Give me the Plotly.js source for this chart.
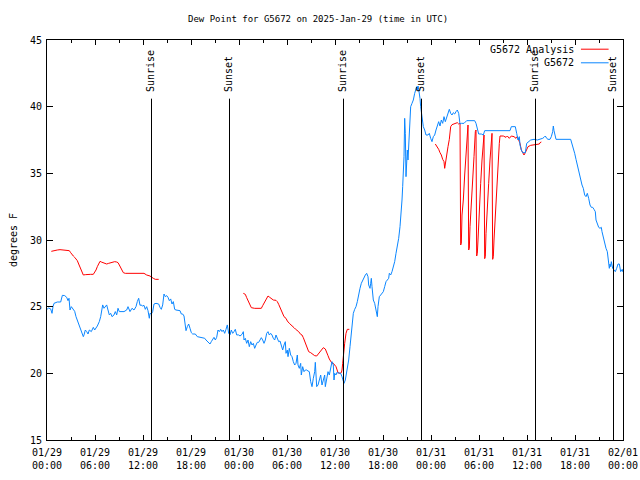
<!DOCTYPE html>
<html>
<head>
<meta charset="utf-8">
<script src="https://cdn.plot.ly/plotly-3.0.1.min.js"></script>
<style>html,body{margin:0;padding:0;background:#fff;}#chart{width:640px;height:480px;}</style>
</head>
<body>
<div id="chart"></div>
<script>
// Hours since 2025-01-29 00:00 UTC
const blueHours = [0,0.2,0.46,0.625,0.75,0.875,1.29,1.71,1.92,2.21,2.46,2.625,2.75,2.875,3.04,3.29,3.46,3.625,3.79,3.96,4.125,4.29,4.46,4.54,4.625,4.79,4.96,5.125,5.29,5.54,5.79,5.96,6.29,6.54,6.71,6.875,6.96,7.125,7.29,7.46,7.625,7.79,7.96,8.125,8.375,8.54,8.71,8.875,9.04,9.29,9.625,9.96,10.125,10.375,10.625,10.875,11.125,11.29,11.46,11.625,
11.75,11.96,12.125,12.29,12.46,12.625,12.79,12.875,13.04,13.21,13.375,13.625,13.96,14.125,14.29,14.46,14.625,14.79,14.96,15.125,15.29,15.46,15.625,15.79,15.96,16.125,16.46,16.625,16.79,16.96,17.125,17.21,17.375,17.54,17.71,17.875,18.04,18.21,18.54,18.79,19.125,19.46,19.71,19.875,20.125,20.375,20.54,20.71,20.875,21.04,21.21,21.375,21.54,21.71,21.875,22.04,22.21,22.375,22.54,22.71,22.875,23.04,23.21,23.375,23.54,23.71,23.96,24.125,
24.375,24.54,24.625,24.79,24.96,25.125,25.29,25.46,25.625,25.79,25.96,26.125,26.29,26.46,26.625,26.79,26.96,27.125,27.29,27.46,27.625,27.79,27.96,28.125,28.29,28.46,28.625,28.79,28.96,29.125,29.29,29.46,29.625,29.79,29.875,30.04,30.125,30.29,30.46,30.625,30.79,30.96,31.125,31.29,31.375,31.54,31.71,31.79,31.96,32.125,32.29,32.46,32.625,32.79,32.96,33.125,33.29,33.46,33.54,33.625,33.71,33.875,34.04,34.21,34.375,34.54,34.71,34.79,34.96,35.125,35.29,35.46,35.625,35.79,35.875,35.96,36.125,
36.21,36.46,36.71,36.875,37.04,37.125,37.29,37.46,37.625,37.71,37.875,38.04,38.21,38.29,38.46,38.625,38.79,38.96,39.125,39.29,39.46,39.625,39.79,39.96,40.125,40.21,40.375,40.46,40.54,40.625,40.79,40.96,41.04,41.21,41.29,41.375,41.54,41.71,41.875,42.04,42.21,42.375,42.54,42.71,42.79,42.96,43.125,43.29,43.46,43.625,43.79,43.96,44.125,44.29,44.375,44.46,44.54,44.625,44.71,44.79,44.875,44.96,45.04,45.125,45.21,45.29,45.375,45.46,45.625,45.79,45.96,46.125,46.21,46.29,46.375,46.46,46.54,46.625,46.71,46.79,46.875,47.04,47.21,47.375,
47.625,47.79,47.96,48.125,48.29,48.46,48.625,48.79,48.96,49.125,49.29,49.46,49.625,49.79,49.96,50.125,50.29,50.46,50.625,50.79,50.96,51.125,51.29,51.46,51.625,51.79,52.125,52.46,53.46,53.625,53.79,53.96,54.29,54.54,54.71,55.125,57.875,58.04,58.54,58.71,58.875,59.04,59.125,59.29,59.46,59.79,59.96,
60.46,60.875,61.29,61.71,61.96,62.125,62.29,62.46,62.625,62.875,63.04,63.21,63.29,63.375,63.54,63.625,65.46,65.625,65.79,65.96,66.125,66.29,66.375,66.54,66.71,66.875,67.04,67.21,67.375,67.54,67.71,67.875,68.04,68.21,68.375,68.54,68.625,68.79,68.96,69.125,69.29,69.375,69.54,69.71,69.875,70.04,70.21,70.29,70.375,70.46,70.54,70.625,70.71,70.875,71.04,71.21,71.375,71.54,71.71,71.9,72];
const blueDewPoint = [24.8,24.9,24.83,24.5,25.0,25.25,25.35,25.35,25.85,25.83,25.7,25.45,25.63,24.75,25.0,24.8,24.65,24.25,24.0,23.75,23.5,23.25,23.0,22.75,22.88,23.25,23.13,22.95,23.25,23.13,23.45,23.25,23.55,23.88,24.25,24.88,25.13,24.88,25.0,25.13,24.75,24.38,24.5,24.25,24.38,24.63,24.38,24.88,24.63,24.63,24.63,24.75,25.0,24.63,24.88,24.75,25.0,25.38,25.63,25.1,
25.13,25.05,25.1,24.8,25.0,24.7,24.13,24.5,24.45,24.63,25.2,25.25,25.2,24.95,24.8,25.13,25.95,25.75,25.83,25.7,25.45,25.58,25.2,25.38,24.8,24.75,24.75,24.7,24.45,24.45,24.3,23.75,23.2,23.5,23.7,23.38,23.05,22.95,22.95,22.75,22.7,22.7,22.63,22.5,22.38,22.2,22.38,22.55,22.7,22.5,22.7,23.25,23.13,23.3,23.13,23.25,23.0,23.3,23.63,23.0,22.88,23.25,23.0,23.13,23.3,22.88,22.88,22.8,
22.925,23.125,22.5,22.625,22.25,22.5,22.0,22.375,22.125,22.25,21.875,22.125,22.325,22.325,22.5,22.675,22.5,22.25,22.5,23.0,23.125,22.875,23.0,22.875,22.625,22.5,22.875,22.625,22.375,22.425,22.0,21.75,22.125,22.375,21.5,21.75,21.25,21.875,21.375,21.25,20.875,20.625,20.75,21.375,20.625,20.375,20.75,19.875,20.5,20.125,20.25,20.25,20.175,20.125,19.375,19.0,19.625,20.125,20.825,19.875,19.0,19.125,19.5,19.875,19.125,19.625,19.875,19.0,19.5,20.125,19.875,20.5,20.875,20.625,19.5,20.0,19.875,
20.05,20.0,20.0,19.75,19.5,19.25,19.5,20.0,20.5,21.0,22.0,23.0,23.75,24.5,24.8,25.0,25.375,26.0,26.375,26.75,27.0,27.25,27.375,27.5,27.25,26.625,26.375,26.75,27.125,26.5,25.5,25.25,25.0,24.75,24.25,25.0,25.75,25.875,26.0,26.125,26.5,26.875,27.0,27.125,27.5,27.375,27.625,28.0,28.375,29.0,29.5,30.125,31.0,32.0,33.0,34.0,35.25,36.25,39.125,38.0,34.75,35.875,36.75,36.0,37.0,38.75,39.25,40.0,40.25,40.5,41.0,41.375,41.5,41.25,41.55,41.3,41.0,40.625,40.0,39.5,39.0,38.5,38.25,37.875,
37.875,38.0,37.625,37.375,37.75,37.875,38.25,38.625,38.875,38.55,39.0,38.75,39.25,38.875,39.25,39.5,39.8,39.5,39.375,39.55,39.45,39.625,39.75,39.5,38.7,38.75,38.75,38.95,38.95,38.75,38.25,37.95,37.95,37.875,38.2,38.2,38.2,38.5,38.5,38.0,37.5,37.75,37.125,36.75,36.55,36.55,37.25,
37.5,37.55,37.5,37.55,37.625,37.7,37.8,37.625,37.55,37.55,37.75,38.125,38.55,38.2,37.75,37.55,37.55,37.25,36.875,36.5,36.05,35.625,35.25,34.875,34.5,34.125,33.875,33.375,33.25,33.5,33.125,32.625,32.45,32.45,32.3,32.125,31.5,31.25,30.95,30.875,30.95,30.625,30.125,29.75,29.375,29.125,28.5,27.875,28.2,28.0,28.375,28.125,27.875,27.75,27.625,27.875,28.2,28.2,27.625,27.8,27.6];

const analysisHours = [0.54,0.96,1.29,1.625,1.96,2.29,2.79,2.96,3.125,3.29,3.46,3.625,3.79,3.96,4.125,4.29,4.46,4.54,4.79,5.04,5.46,5.79,5.96,6.125,6.29,6.46,6.625,6.79,6.96,7.21,7.46,7.71,7.96,8.21,8.46,8.71,8.875,9.04,9.21,9.375,9.54,9.79,10.46,11.125,11.46,11.875,12.125,12.46,12.875,13.29,13.54,13.96,
14.2,
24.54,24.79,24.96,25.125,25.29,25.54,25.96,26.375,26.79,26.96,27.21,27.46,27.625,27.79,28.04,28.29,28.625,28.79,28.96,29.125,29.29,29.46,29.625,29.875,30.04,30.29,30.54,30.71,30.875,31.04,31.21,31.46,31.71,31.875,32.04,32.21,32.375,32.54,32.71,32.96,33.21,33.46,33.71,33.875,34.125,34.375,34.54,34.79,34.96,35.125,35.29,35.46,35.625,35.79,35.96,36.125,36.375,36.625,36.79,36.875,36.96,37.04,37.21,37.375,37.54,37.79,
38.0,
48.54,48.79,48.96,49.125,49.29,49.46,49.625,49.71,49.79,49.96,50.125,50.29,50.375,50.46,50.625,50.96,51.29,51.46,51.625,51.71,51.79,51.875,52.04,52.21,52.375,52.54,52.625,52.71,52.79,52.875,53.04,53.21,53.375,53.54,53.625,53.71,53.79,53.875,54.04,54.21,54.375,54.54,54.625,54.71,54.79,54.875,55.04,55.21,55.375,55.54,55.625,55.71,55.79,55.875,56.04,56.21,56.375,56.54,56.625,57.04,57.375,57.54,57.79,58.04,58.375,58.625,58.79,58.96,59.125,59.29,59.46,59.625,59.79,59.96,60.125,60.46,60.875,61.29,61.54,61.625,61.79];
const analysisDewPoint = [29.15,29.175,29.25,29.275,29.25,29.225,29.2,29.05,28.9,28.8,28.7,28.575,28.45,28.2,27.95,27.75,27.5,27.375,27.4,27.425,27.425,27.425,27.55,27.75,28.0,28.25,28.4,28.35,28.3,28.25,28.2,28.25,28.3,28.35,28.375,28.35,28.3,28.125,27.95,27.75,27.55,27.5,27.5,27.5,27.55,27.55,27.5,27.375,27.3,27.125,27.05,27.05,
null,
26.0,25.925,25.675,25.425,25.175,24.925,24.875,24.875,24.875,25.075,25.375,25.675,25.8,25.725,25.575,25.5,25.475,25.375,25.175,24.925,24.675,24.425,24.25,24.125,23.925,23.75,23.575,23.5,23.425,23.325,23.25,23.125,22.925,22.875,22.675,22.425,22.175,21.825,21.625,21.55,21.425,21.325,21.3,21.425,21.625,21.8,21.925,21.825,21.625,21.325,21.075,20.925,20.75,20.75,20.625,20.5,20.05,20.0,20.05,20.25,20.75,21.5,22.25,23.0,23.3,23.3,
null,
37.2,37.0,36.8,36.55,36.375,36.05,35.875,35.375,35.75,36.375,37.0,37.55,38.0,38.5,38.65,38.7,38.8,38.7,38.75,29.625,29.75,31.875,33.0,34.875,36.75,38.25,38.625,29.25,29.375,31.0,32.5,34.5,36.25,38.125,38.25,28.8,29.0,30.0,32.5,34.25,36.0,37.875,37.875,28.6,28.75,30.5,32.0,34.25,36.0,37.95,38.0,28.55,28.75,30.0,32.0,33.5,35.5,37.25,37.8,37.8,37.7,37.8,37.625,37.8,37.75,37.625,37.75,37.5,37.25,36.75,36.5,36.375,36.55,36.8,37.0,37.1,37.15,37.2,37.2,37.3,37.35];

const sunriseHours = [13, 37, 61];
const sunsetHours = [22.75, 46.75, 70.75];
const tickHours = [0,6,12,18,24,30,36,42,48,54,60,66,72];
const tickLabels = ["01/29<br>00:00","01/29<br>06:00","01/29<br>12:00","01/29<br>18:00","01/30<br>00:00","01/30<br>06:00","01/30<br>12:00","01/30<br>18:00","01/31<br>00:00","01/31<br>06:00","01/31<br>12:00","01/31<br>18:00","02/01<br>00:00"];
const seriesNames = ["G5672 Analysis", "G5672"];
const seriesColors = ["#ff0000", "#0a86ff"];

const FONT = "DejaVu Sans Mono";
const fnt = {family: FONT, size: 10, color: "#000"};
const pxHalf = 0.0625; // half a pixel in hours, keeps 1px rules crisp

const traces = [
  {x: analysisHours, y: analysisDewPoint, type: "scatter", mode: "lines", name: seriesNames[0],
   line: {color: seriesColors[0], width: 1}, connectgaps: false, hoverinfo: "skip"},
  {x: blueHours, y: blueDewPoint, type: "scatter", mode: "lines", name: seriesNames[1],
   line: {color: seriesColors[1], width: 1}, hoverinfo: "skip"}
];

const shapes = [];
const annotations = [];
const lineTop = 40.6;
function addEvent(h, label) {
  shapes.push({type: "line", xref: "x", yref: "y", x0: h + pxHalf, x1: h + pxHalf, y0: 15, y1: lineTop, line: {color: "#000", width: 1}});
  annotations.push({x: h, xref: "x", y: 0.8675, yref: "paper", text: label, textangle: -90, showarrow: false, xanchor: "center", yanchor: "bottom", borderpad: 0, font: fnt});
}
sunriseHours.forEach(h => addEvent(h, "Sunrise"));
sunsetHours.forEach(h => addEvent(h, "Sunset"));
// gnuplot-style legend (text then sample on the right)
const legY = [0.977, 0.943];
seriesNames.forEach((n, i) => {
  annotations.push({x: 0.916, xref: "paper", y: legY[i], yref: "paper", text: n, showarrow: false, xanchor: "right", yanchor: "middle", borderpad: 0, font: fnt});
  shapes.push({type: "line", xref: "paper", yref: "paper", x0: 0.927, x1: 0.975, y0: legY[i], y1: legY[i], line: {color: seriesColors[i], width: 1}});
});

const layout = {
  width: 640, height: 480,
  margin: {l: 47, r: 17, t: 40, b: 40, pad: 0},
  paper_bgcolor: "#fff", plot_bgcolor: "#fff",
  showlegend: false,
  font: fnt,
  title: {text: "Dew Point for G5672 on 2025-Jan-29 (time in UTC)", font: {family: FONT, size: 9, color: "#000"}, x: 0.497, xref: "container", xanchor: "center", y: 0.96, yref: "container", yanchor: "middle"},
  xaxis: {range: [0, 72], tickvals: tickHours, ticktext: tickLabels, ticks: "inside", ticklen: 5, tickcolor: "#000",
          showline: true, linecolor: "#000", linewidth: 1, mirror: "ticks", showgrid: false, zeroline: false,
          minor: {dtick: 3, tick0: 0, ticks: "inside", ticklen: 3, tickcolor: "#000", showgrid: false},
          ticklabelstandoff: 3, tickfont: fnt, fixedrange: true},
  yaxis: {range: [15, 45], dtick: 5, tick0: 15, ticks: "inside", ticklen: 6, tickcolor: "#000",
          showline: true, linecolor: "#000", linewidth: 1, mirror: "ticks", showgrid: false, zeroline: false,
          ticklabelstandoff: 2, tickfont: fnt, title: {text: "degrees F", font: fnt, standoff: 10}, automargin: false, fixedrange: true},
  shapes: shapes,
  annotations: annotations
};

Plotly.newPlot("chart", traces, layout, {staticPlot: true, displayModeBar: false});
</script>
</body>
</html>
